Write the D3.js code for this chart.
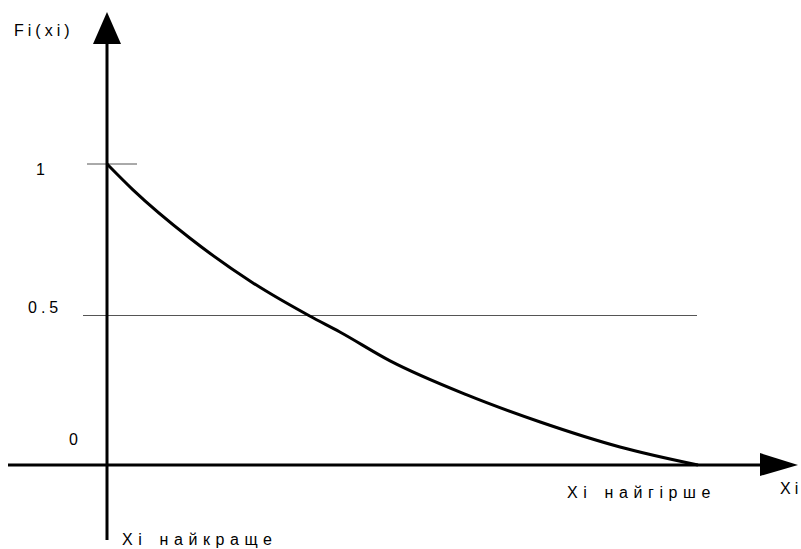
<!DOCTYPE html>
<html><head><meta charset="utf-8">
<script src="https://cdn.jsdelivr.net/npm/d3@7"></script>
<style>body{margin:0;background:#fff}svg{display:block}text{font-family:"Liberation Sans",Arial,sans-serif;font-size:16px;fill:#000;letter-spacing:4px}text.u{letter-spacing:5.6px;word-spacing:2px}</style>
</head><body><svg id="c" width="801" height="549"></svg>
<script>
const xs = [0, 0.044, 0.14, 0.247, 0.343, 0.394, 0.479, 0.609, 0.733, 0.868, 1];
const ys = [1, 0.914, 0.754, 0.605, 0.495, 0.442, 0.346, 0.233, 0.143, 0.06, 0];
const yTicks = [1, 0.5, 0];
const yTickLabels = ["1", "0.5", "0"];
const yTitle = "Fi(xi)";
const xTitle = "Xi";
const xBest = "Xi найкраще";
const xWorst = "Xi найгірше";

const svg = d3.select("#c");
const x = d3.scaleLinear().domain([0, 1]).range([107, 698]);
const y = d3.scaleLinear().domain([0, 1]).range([465, 164]);

// reference lines
svg.append("line").attr("x1", 87).attr("x2", 137).attr("y1", y(1)).attr("y2", y(1))
  .attr("stroke", "#555").attr("stroke-width", 1);
svg.append("line").attr("x1", 83).attr("x2", 697).attr("y1", y(0.5)+1).attr("y2", y(0.5)+1)
  .attr("stroke", "#555").attr("stroke-width", 1);

// axes
svg.append("line").attr("x1", 8).attr("x2", 762).attr("y1", y(0)).attr("y2", y(0))
  .attr("stroke", "#000").attr("stroke-width", 3);
svg.append("line").attr("x1", x(0)).attr("x2", x(0)).attr("y1", 40).attr("y2", 540)
  .attr("stroke", "#000").attr("stroke-width", 3);
svg.append("path").attr("d", `M${x(0)},12 L${x(0)-14},44 L${x(0)+14},44 Z`).attr("fill", "#000");
svg.append("path").attr("d", `M798,${y(0)} L760,${y(0)-12} L760,${y(0)+11} Z`).attr("fill", "#000");

// curve
const data = xs.map((v, i) => [v, ys[i]]);
svg.append("path").datum(data)
  .attr("d", d3.line().x(d => x(d[0])).y(d => y(d[1])).curve(d3.curveMonotoneX))
  .attr("fill", "none").attr("stroke", "#000").attr("stroke-width", 3);

// tick labels
const lx = [36, 28, 69];
yTicks.forEach((t, i) => {
  svg.append("text").attr("x", lx[i]).attr("y", y(t) + (i === 0 ? 11 : (i === 1 ? -2 : -20))).text(yTickLabels[i]);
});
svg.append("text").attr("x", 14).attr("y", 36).text(yTitle);
svg.append("text").attr("x", 780).attr("y", 494).text(xTitle);
svg.append("text").attr("class", "u").attr("x", 567).attr("y", 498).text(xWorst);
svg.append("text").attr("class", "u").attr("x", 122).attr("y", 545).text(xBest);
</script></body></html>
